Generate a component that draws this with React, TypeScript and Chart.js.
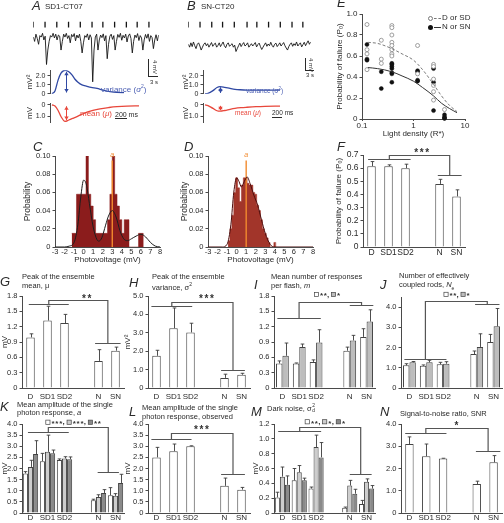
import React, { useEffect, useRef } from "react";
import { Chart, registerables } from "chart.js";

Chart.register(...registerables);

const FONT = "'Liberation Sans', Arial, Helvetica, sans-serif";
Chart.defaults.font.family = FONT;
Chart.defaults.color = "#2a2a2a";

const INK = "#2a2a2a";
const AXIS = "#4a4a4a";
const BLUE = "#3049a3";
const BLUE_TXT = "#4b5fb3";
const RED = "#e8473b";
const ORANGE = "#f28a2e";
const WHITE_BAR = "#ffffff";
const GREY_BAR = "#bdbdbd";
const LIGHT_BAR = "#cdcdcd";
const DARK_BAR = "#8a8a8a";
const HIST_C = "#8b1c1c";
const HIST_D = "#a2352a";

/* ================= DATA ================= */

// Panel A (SD1-CT07) raw recording, mV relative to baseline
const flashTimesA = [0, 8.9, 17.8, 26.7, 35.6, 44.5, 52.7, 61.6, 70.5, 78.7, 87.6];
const voltageA = [
  0.5, -1, 1.5, 0, -2, 1, 0.5, 1.8, -0.5, 0.8,
  -9, -4, -1, 1, 0.5, 1.8, 0.2, 1.5, -0.5, 1.2,
  0.8, -4, -1, 1.5, 0.5, 1.8, 0, 1, -1.5, 1.4,
  0.6, 1.7, -0.8, 1.2, 0.2, 1.5, -1, -5, -1.5, 1,
  0.4, 1.6, -0.5, 1.3, 0.2, -15, -4, 0.5, 1.5, -4,
  -0.5, 1.2, 0.3, 1.6, -0.8, 1, -7, -2, 0.8, 1.5,
  -0.3, 1, -4, -1, 1.4, 0.4, 1.8, -0.6, 1.1, 0.2,
  1.5, -1.2, 0.9, 1.6, 0, -5, -1, 1.2, 0.3, 1.7,
  -0.7, 1, 0.2, -4, -0.5, 1.4, 0.1, 1.6, -1, 1,
  0.3, -3.5, -0.5, 1.3, -0.8, 1.2,
];
// Panel B (SN-CT20) raw recording
const flashTimesB = [0, 9.1, 18.2, 26.6, 35.7, 45.6, 53.2, 62.3, 71.4, 80.5, 88.9];
const voltageB = [
  -2, -3, -1.5, -2.8, -1.2, -2.5, -3.5, -2, -1.5, -2.6,
  -4, -3, -2, -1.5, -2.5, -1.8, -3, -2.2, -1.4, -2.7,
  -2, -1.6, -3, -2.4, -1.5, -2.8, -2, -1.2, -2.5, -3.2,
  -2, -1.5, -2.7, -2.2, -1.8, -3, -2.3, -4.5, -3.5, -2.5,
  -1.6, -2.8, -2, -1.4, -2.6, -2.2, -1.5, -3, -2.4, -1.8,
  -2.6, -2, -1.4, -2.9, -2.1, -1.6, -2.8, -3.8, -3, -2.2,
  -1.5, -2.7, -1.9, -2.5, -1.3, -2.4, -3, -2, -1.6, -2.8,
  -2.2, -1.5, -2.6, -2, -1.4, -2.5, -3.3, -4, -2.8, -2,
  -1.5, -2.7, -1.8, -2.4, -1.2, -2.6, -2, -1.5, -2.9, -2.1,
  -1.3, -2.5, -1.6, -0.8, -2, -1.2,
];
const FLASH_LEVEL = 4.8;

// Ensemble variance / mean (time in ms)
const varTimeA = [0, 50, 100, 150, 217, 280, 333, 380, 433, 500, 583, 650, 750, 850, 967, 1080, 1200];
const varA = [0, 0.3, 1.5, 2.3, 2.62, 2.45, 2.1, 1.65, 1.3, 1.0, 0.84, 0.72, 0.6, 0.42, 0.25, 0.15, 0.12];
const meanTimeA = [0, 50, 100, 150, 217, 280, 350, 417, 500, 583, 700, 800, 950, 1083, 1250, 1450];
const meanA = [0, 0.1, 0.46, 1.0, 1.42, 1.3, 1.15, 1.0, 0.8, 0.62, 0.45, 0.33, 0.22, 0.15, 0.1, 0.08];
const varArrowA = [233, 0.15, 2.45];
const meanArrowA = [233, 0.12, 1.3];

const varTimeB = [0, 50, 133, 200, 250, 330, 417, 500, 583, 700, 850, 1000, 1250];
const varB = [0, 0.05, 0.35, 0.7, 0.8, 0.72, 0.6, 0.5, 0.45, 0.42, 0.42, 0.4, 0.4];
const meanTimeB = [0, 50, 133, 200, 250, 330, 417, 500, 600, 700, 850, 1000, 1250];
const meanB = [0, 0.05, 0.3, 0.5, 0.54, 0.48, 0.38, 0.3, 0.24, 0.2, 0.15, 0.12, 0.1];
const varArrowB = [250, 0.1, 0.72];
const meanArrowB = [250, 0.08, 0.45];

const varTicks = [0, 1, 2];
const meanTicks = [0, 1];

// Panel C histogram (bin centres, bin width 0.25 mV)
const cBinWidth = 0.25;
const cBins = [
  -1.125, -0.875, -0.625, -0.375, -0.125, 0.125, 0.375, 0.625, 0.875, 1.125,
  1.375, 1.625, 1.875, 2.125, 2.375, 2.625, 2.875, 3.125, 3.375, 3.625,
  3.875, 4.125, 4.375, 4.625, 4.875, 5.125, 5.375, 5.625, 5.875, 6.125,
];
const cProb = [
  0.015, 0.015, 0.058, 0.058, 0.058, 0.058, 0.1, 0.058, 0.045, 0.03,
  0.015, 0.015, 0.015, 0.015, 0.015, 0.03, 0.058, 0.1, 0.058, 0.045,
  0.03, 0.015, 0.03, 0.03, 0, 0, 0, 0, 0.015, 0.015,
];
const cFitX = [-3, -2, -1.5, -1, -0.6, -0.3, 0, 0.3, 0.6, 1.0, 1.4, 1.6, 1.9, 2.3, 2.6, 3, 3.4, 3.8, 4.2, 4.6, 5, 5.5, 6, 6.5, 7, 7.5, 8];
const cFitY = [0, 0, 0.001, 0.005, 0.025, 0.055, 0.0735, 0.068, 0.048, 0.022, 0.008, 0.0065, 0.01, 0.024, 0.034, 0.04, 0.033, 0.018, 0.009, 0.007, 0.009, 0.012, 0.014, 0.011, 0.005, 0.001, 0];
const cQuantal = 3.0;

// Panel D histogram (bin centres, bin width 0.2 mV)
const dBinWidth = 0.2;
const dBins = [
  -0.8, -0.6, -0.4, -0.2, 0, 0.2, 0.4, 0.6, 0.8, 1.0, 1.2, 1.4, 1.6,
  1.8, 2.0, 2.2, 2.4, 2.6, 2.8, 3.0, 3.2, 3.4, 3.6, 3.8, 4.0,
];
const dProb = [
  0.007, 0.02, 0.035, 0.06, 0.076, 0.065, 0.05, 0.068, 0.076, 0.076, 0.07, 0.068, 0.068,
  0.06, 0.058, 0.046, 0.04, 0.03, 0.02, 0.015, 0.01, 0.005, 0, 0, 0.005,
];
const dFitX = [-3, -1.5, -1, -0.6, -0.3, 0, 0.25, 0.5, 0.8, 1.1, 1.4, 1.8, 2.2, 2.6, 3, 3.5, 4, 8];
const dFitY = [0, 0, 0.003, 0.025, 0.06, 0.076, 0.072, 0.066, 0.072, 0.077, 0.07, 0.057, 0.046, 0.03, 0.015, 0.003, 0, 0];
const dQuantal = 1.0;

const histXTicks = [-3, -2, -1, 0, 1, 2, 3, 4, 5, 6, 7, 8];
const histYTicks = [0, 0.02, 0.04, 0.06, 0.08, 0.1];

// Panel E
const eOpenX = [0.125, 0.125, 0.125, 0.125, 0.237, 0.237, 0.237, 0.38, 0.38, 0.38, 0.38, 0.38, 0.38, 0.38, 0.38, 1.2, 1.2, 2.45, 2.45, 2.45, 2.45, 2.45, 2.45, 4.0];
const eOpenY = [0.9, 0.66, 0.62, 0.47, 0.75, 0.57, 0.53, 0.89, 0.87, 0.8, 0.73, 0.7, 0.66, 0.62, 0.6, 0.7, 0.43, 0.52, 0.5, 0.38, 0.32, 0.26, 0.18, 0.09];
const eFillX = [0.125, 0.125, 0.125, 0.237, 0.237, 0.38, 0.38, 0.38, 0.38, 0.38, 0.38, 0.38, 1.2, 1.2, 1.2, 1.2, 2.45, 2.45, 2.45, 4.0, 4.0, 4.0, 4.0];
const eFillY = [0.71, 0.57, 0.56, 0.45, 0.29, 0.53, 0.52, 0.5, 0.48, 0.44, 0.43, 0.35, 0.46, 0.45, 0.37, 0.36, 0.48, 0.35, 0.08, 0.04, 0.02, 0.01, 0.005];
const eFitX = [0.13, 0.2, 0.38, 0.6, 1.0, 1.5, 2.45, 3.5, 5, 7];
const eFitD = [0.73, 0.72, 0.67, 0.62, 0.56, 0.47, 0.33, 0.22, 0.13, 0.07];
const eFitN = [0.49, 0.48, 0.45, 0.41, 0.36, 0.3, 0.22, 0.15, 0.1, 0.06];
const eXTicks = [0.1, 1, 10];
const eYTicks = [0, 0.2, 0.4, 0.6, 0.8, 1.0];

// Bar panels
const cats = ["D", "SD1", "SD2", "", "N", "SN"];

const fMean = [0.615, 0.615, 0.6, null, 0.48, 0.385];
const fErr = [0.035, 0.01, 0.03, null, 0.035, 0.05];
const fTicks = [0, 0.1, 0.2, 0.3, 0.4, 0.5, 0.6, 0.7];

const gMean = [0.99, 1.32, 1.27, null, 0.53, 0.73];
const gErr = [0.07, 0.28, 0.17, null, 0.22, 0.07];
const gTicks = [0, 0.3, 0.6, 0.9, 1.2, 1.5, 1.8];

const hMean = [1.75, 3.25, 3.02, null, 0.55, 0.72];
const hErr = [0.3, 1.1, 0.5, null, 0.2, 0.08];
const hTicks = [0, 1, 2, 3, 4, 5];

const iMean1 = [0.48, 0.48, 0.51, null, 0.73, 1.0];
const iErr1 = [0.05, 0.01, 0.04, null, 0.07, 0.16];
const iMean2 = [0.63, 0.8, 0.89, null, 0.93, 1.3];
const iErr2 = [0.25, 0.06, 0.25, null, 0.1, 0.23];
const iTicks = [0, 0.3, 0.6, 0.9, 1.2, 1.5, 1.8];

const jMean1 = [1.12, 1.1, 1.17, null, 1.68, 2.27];
const jErr1 = [0.08, 0.04, 0.1, null, 0.15, 0.38];
const jMean2 = [1.27, 1.27, 1.2, null, 2.03, 3.05];
const jErr2 = [0.04, 0.1, 0.1, null, 0.65, 0.88];
const jTicks = [0, 1, 2, 3, 4];

const kMean1 = [1.78, 2.33, 2.38, null, 0.57, 0.8];
const kErr1 = [0.08, 0.35, 0.05, null, 0.05, 0.34];
const kMean2 = [2.07, 2.75, 2.45, null, 0.72, 0.77];
const kErr2 = [0.3, 0.75, 0.08, null, 0.1, 0.1];
const kMean3 = [2.65, 2.68, 2.42, null, 0.9, 1.35];
const kErr3 = [0.6, 0.15, 0.1, null, 0.15, 0.39];
const kTicks = [0, 0.5, 1, 1.5, 2, 2.5, 3, 3.5, 4];

const lMean = [2.5, 2.78, 3.0, null, 1.22, 1.05];
const lErr = [0.45, 0.32, 0.02, null, 0.35, 0.1];

const mMean1 = [0.21, 0.44, 0.33, null, 0.07, 0.12];
const mErr1 = [0.07, 0.16, 0.02, null, 0.01, 0.05];
const mMean2 = [0.49, 0.55, 0.89, null, 0.37, 0.42];
const mErr2 = [0.13, 0.09, 0.16, null, 0.07, 0.04];
const mMean3 = [0.38, 0.44, 0.75, null, 0.26, 0.33];
const mErr3 = [0.12, 0.03, 0.2, null, 0.06, 0.04];
const mTicks = [0, 0.2, 0.4, 0.6, 0.8, 1.0, 1.2];

const nMean = [3.1, 2.55, 2.45, null, 1.3, 2.28];
const nErr = [0.32, 0.55, 0.01, null, 0.13, 0.3];
const nTicks = [0, 1, 2, 3, 4];

// significance brackets: left [xFrom, xTo, y], top y, right [xFrom, xTo, y]
const fBracket = { left: [-0.2, 2.3, 0.67], top: 0.7, right: [3.9, 5.3, 0.55] };
const gBracket = { left: [-0.1, 2.25, 1.64], top: 1.72, right: [3.8, 5.3, 0.89] };
const hBracket = { left: [-0.3, 2.1, 4.46], top: 4.69, right: [3.8, 5.2, 0.98] };
const iBracket = { left: [-0.3, 2.28, 1.36], top: 1.69, right: [4.0, 5.4, 1.62] };
const jBracket = { left: [-0.3, 2.2, 1.43], top: 4.31, right: [3.9, 5.35, 4.15] };
const kBracket = { left: [-0.15, 2.25, 3.65], top: 3.88, right: [3.95, 5.2, 1.86] };
const lBracket = { left: [-0.3, 2.06, 3.31], top: 3.58, right: [3.8, 5.2, 1.75] };
const mBracket = { left: [-0.25, 2.3, 1.11], top: 1.16, right: [4.0, 5.3, 0.52] };
const nBracket = { left: [-0.25, 2.2, 3.61], top: 3.82, right: [3.95, 5.4, 2.8] };

const fNote = { x: 2.95, y: 0.725, parts: ["***"], center: true, size: 10, adv: 5.5 };
const gNote = { x: 3.3, y: 1.78, parts: ["**"], center: true, size: 10, adv: 5.5 };
const hNote = { x: 2.94, y: 4.95, parts: ["***"], center: true, size: 10, adv: 5.5 };
const iNote = { x: 1.9, y: 1.83, parts: [{ sq: WHITE_BAR }, "**, ", { sq: GREY_BAR }, "*"], size: 8, adv: 3.6 };
const jNote = { x: 2.05, y: 4.63, parts: [{ sq: WHITE_BAR }, "**, ", { sq: GREY_BAR }, "*"], size: 8, adv: 3.6 };
const kNote = { x: 0.9, y: 4.08, parts: [{ sq: WHITE_BAR }, "***, ", { sq: LIGHT_BAR }, "***, ", { sq: DARK_BAR }, "**"], size: 8, adv: 3.8 };
const lNote = { x: 2.65, y: 3.8, parts: ["***"], center: true, size: 10, adv: 5.5 };
const mNote = { x: 1.35, y: 1.23, parts: [{ sq: WHITE_BAR }, "**, ", { sq: LIGHT_BAR }, "*, ", { sq: DARK_BAR }, "*"], size: 8, adv: 3.8 };
const nNote = { x: 2.8, y: 3.98, parts: ["*"], center: true, size: 10, adv: 5.5 };

/* ================= GEOMETRY ================= */
const G_TRACE_A = { x0: 32, y0: 17, x1: 160, y1: 86, L: 4, T: 4, R: 4, B: 4 };
const G_TRACE_B = { x0: 187, y0: 17, x1: 312, y1: 86, L: 4, T: 4, R: 4, B: 4 };
const G_VAR_A = { x0: 50, y0: 70, x1: 150, y1: 95, L: 25, T: 6, R: 4, B: 5 };
const G_MEAN_A = { x0: 50, y0: 102, x1: 150, y1: 124, L: 25, T: 5, R: 4, B: 5 };
const G_VAR_B = { x0: 203, y0: 70, x1: 303, y1: 95, L: 22, T: 6, R: 4, B: 5 };
const G_MEAN_B = { x0: 203, y0: 102, x1: 303, y1: 124, L: 22, T: 5, R: 4, B: 5 };
const G_C = { x0: 55, y0: 156, x1: 160, y1: 247, L: 32, T: 8, R: 5, B: 18 };
const G_D = { x0: 208, y0: 156, x1: 313, y1: 247, L: 28, T: 8, R: 5, B: 18 };
const G_E = { x0: 362, y0: 14, x1: 465, y1: 119, L: 27, T: 10, R: 10, B: 20 };
const G_F = { x0: 363, y0: 155, x1: 465, y1: 247, L: 29, T: 12, R: 4, B: 13 };
const G_G = { x0: 22, y0: 296, x1: 124, y1: 388, L: 22, T: 16, R: 2, B: 17 };
const G_H = { x0: 148, y0: 296, x1: 250, y1: 388, L: 25, T: 16, R: 2, B: 17 };
const G_I = { x0: 274, y0: 296, x1: 375, y1: 388, L: 22, T: 16, R: 2, B: 17 };
const G_J = { x0: 401, y0: 297, x1: 502, y1: 388, L: 22, T: 16, R: 2, B: 17 };
const G_K = { x0: 22, y0: 424, x1: 124, y1: 513, L: 22, T: 16, R: 2, B: 11 };
const G_L = { x0: 148, y0: 424, x1: 250, y1: 513, L: 25, T: 16, R: 2, B: 11 };
const G_M = { x0: 274, y0: 424, x1: 375, y1: 513, L: 23, T: 16, R: 2, B: 11 };
const G_N = { x0: 401, y0: 424, x1: 502, y1: 513, L: 22, T: 16, R: 2, B: 11 };

/* ================= HELPERS ================= */
const f1 = (v: number) => (v === 0 ? "0" : v.toFixed(1));
const f2 = (v: number) => (v === 0 ? "0" : v.toFixed(2));

function baseOptions(g: any, scales: any, hidden: any = {}) {
  return {
    responsive: false,
    maintainAspectRatio: false,
    animation: false,
    devicePixelRatio: 1,
    events: [],
    layout: { padding: { left: hidden.y ? g.L : 0, top: g.T, right: g.R, bottom: hidden.x ? g.B : 0 } },
    plugins: { legend: { display: false }, tooltip: { enabled: false } },
    scales,
  };
}

function yAxis(g: any, o: any) {
  return {
    type: "linear",
    min: o.min,
    max: o.max,
    reverse: !!o.reverse,
    afterFit: (s: any) => { s.width = g.L; },
    afterBuildTicks: (s: any) => { s.ticks = o.ticks.map((v: number) => ({ value: v })); },
    ticks: { font: { size: o.size }, color: INK, padding: 2, autoSkip: false, callback: (v: any) => o.fmt(Number(v)) },
    grid: { display: true, drawOnChartArea: false, drawTicks: true, tickLength: 2.5, color: AXIS, lineWidth: 1 },
    border: { display: true, color: AXIS, width: 1 },
    title: o.title
      ? { display: true, text: o.title, font: { size: o.titleSize || 8 }, color: INK, padding: 0 }
      : { display: false },
  };
}

function catAxis(g: any, size: number, pad: number) {
  return {
    type: "category",
    offset: true,
    afterFit: (s: any) => { s.height = g.B; },
    ticks: { font: { size }, color: INK, padding: pad, autoSkip: false, maxRotation: 0, minRotation: 0 },
    grid: { display: false, drawTicks: false, offset: true },
    border: { display: true, color: AXIS, width: 1 },
  };
}

function ChartCanvas({ g, build }: any) {
  const ref = useRef<HTMLCanvasElement | null>(null);
  const left = Math.round(g.x0 - g.L);
  const top = Math.round(g.y0 - g.T);
  const w = Math.round(g.x1 - g.x0 + g.L + g.R);
  const h = Math.round(g.y1 - g.y0 + g.T + g.B);
  useEffect(() => {
    const chart = new Chart(ref.current as HTMLCanvasElement, build(g));
    return () => chart.destroy();
  }, []);
  return (
    <canvas
      ref={ref}
      width={w}
      height={h}
      style={{ position: "absolute", left, top, width: w, height: h, display: "block" }}
    />
  );
}

const arrowPlugin = (a: number[], color: string) => ({
  id: "arrow",
  afterDatasetsDraw(chart: any) {
    const { ctx, scales } = chart;
    const px = Math.round(scales.x.getPixelForValue(a[0])) + 0.5;
    const p1 = scales.y.getPixelForValue(a[1]);
    const p2 = scales.y.getPixelForValue(a[2]);
    ctx.save();
    ctx.strokeStyle = color;
    ctx.fillStyle = color;
    ctx.lineWidth = 1;
    ctx.beginPath();
    ctx.moveTo(px, p1);
    ctx.lineTo(px, p2);
    ctx.stroke();
    const d = p2 > p1 ? 1 : -1;
    const head = (yy: number, dir: number) => {
      ctx.beginPath();
      ctx.moveTo(px, yy);
      ctx.lineTo(px - 2.2, yy - dir * 3.5);
      ctx.lineTo(px + 2.2, yy - dir * 3.5);
      ctx.closePath();
      ctx.fill();
    };
    head(p2, d);
    head(p1, -d);
    ctx.restore();
  },
});

const errorBarPlugin = (errs: any[][]) => ({
  id: "errbars",
  afterDatasetsDraw(chart: any) {
    const ctx = chart.ctx;
    const ys = chart.scales.y;
    ctx.save();
    ctx.strokeStyle = "#3a3a3a";
    ctx.lineWidth = 0.9;
    errs.forEach((arr, di) => {
      const meta = chart.getDatasetMeta(di);
      const data = chart.data.datasets[di].data;
      meta.data.forEach((el: any, j: number) => {
        const v = data[j];
        const e = arr[j];
        if (v == null || e == null) return;
        const x = Math.round(el.x) + 0.5;
        const yTop = ys.getPixelForValue(v + e);
        ctx.beginPath();
        ctx.moveTo(x, ys.getPixelForValue(v));
        ctx.lineTo(x, yTop);
        ctx.moveTo(x - 1.8, yTop);
        ctx.lineTo(x + 1.8, yTop);
        ctx.stroke();
      });
    });
    ctx.restore();
  },
});

const bracketPlugin = (b: any, note: any) => ({
  id: "bracket",
  afterDraw(chart: any) {
    const { ctx, scales } = chart;
    const px = (v: number) => scales.x.getPixelForValue(v);
    const py = (v: number) => Math.round(scales.y.getPixelForValue(v)) + 0.5;
    const lm = (b.left[0] + b.left[1]) / 2;
    const rm = (b.right[0] + b.right[1]) / 2;
    ctx.save();
    ctx.strokeStyle = "#555";
    ctx.lineWidth = 1.2;
    ctx.beginPath();
    ctx.moveTo(px(b.left[0]), py(b.left[2]));
    ctx.lineTo(px(b.left[1]), py(b.left[2]));
    ctx.moveTo(px(lm), py(b.left[2]));
    ctx.lineTo(px(lm), py(b.top));
    ctx.lineTo(px(rm), py(b.top));
    ctx.lineTo(px(rm), py(b.right[2]));
    ctx.moveTo(px(b.right[0]), py(b.right[2]));
    ctx.lineTo(px(b.right[1]), py(b.right[2]));
    ctx.stroke();

    // significance text
    ctx.font = `bold ${note.size}px ${FONT}`;
    ctx.textBaseline = "middle";
    ctx.textAlign = "left";
    const sq = 4.2;
    const widthOf = () => {
      let w = 0;
      note.parts.forEach((p: any) => {
        if (typeof p === "string") {
          for (const ch of p) w += ch === "*" ? note.adv : ctx.measureText(ch).width;
        } else w += sq + 1.2;
      });
      return w;
    };
    let x = px(note.x);
    if (note.center) x -= widthOf() / 2;
    const y = scales.y.getPixelForValue(note.y);
    ctx.fillStyle = "#333";
    note.parts.forEach((p: any) => {
      if (typeof p === "string") {
        for (const ch of p) {
          if (ch === "*") {
            ctx.fillText("*", x + (note.adv - ctx.measureText("*").width) / 2, y + note.size * 0.2);
            x += note.adv;
          } else {
            ctx.fillText(ch, x, y);
            x += ctx.measureText(ch).width;
          }
        }
      } else {
        ctx.fillStyle = p.sq;
        ctx.fillRect(x, y - sq / 2, sq, sq);
        ctx.strokeStyle = "#444";
        ctx.lineWidth = 0.7;
        ctx.strokeRect(x, y - sq / 2, sq, sq);
        ctx.fillStyle = "#333";
        x += sq + 1.2;
      }
    });
    ctx.restore();
  },
});

const quantalLabel = (xv: number) => ({
  id: "qlabel",
  afterDraw(chart: any) {
    const { ctx, scales } = chart;
    ctx.save();
    ctx.fillStyle = ORANGE;
    ctx.font = `italic 7px ${FONT}`;
    ctx.textAlign = "center";
    ctx.textBaseline = "middle";
    ctx.fillText("a", scales.x.getPixelForValue(xv), scales.y.getPixelForValue(0.1) - 0.5);
    ctx.restore();
  },
});

/* ================= BUILDERS ================= */
function buildTrace(volt: number[], flashes: number[]) {
  return (g: any) => ({
    type: "line",
    data: {
      datasets: [
        {
          data: volt.map((y, x) => ({ x, y })),
          borderColor: "#151515",
          borderWidth: 0.9,
          pointRadius: 0,
          tension: 0,
        },
        {
          type: "scatter",
          data: flashes.map((x) => ({ x, y: FLASH_LEVEL })),
          pointStyle: "line",
          pointRotation: 90,
          pointRadius: 2.8,
          pointBorderColor: "#151515",
          pointBackgroundColor: "#151515",
          pointBorderWidth: 1.3,
        },
      ],
    },
    options: baseOptions(
      g,
      {
        x: { type: "linear", display: false, min: 0, max: volt.length - 1 },
        y: { type: "linear", display: false, min: -16, max: 7 },
      },
      { x: true, y: true }
    ),
  });
}

function buildEns(times: number[], vals: number[], color: string, arrow: number[], yo: any) {
  return (g: any) => ({
    type: "line",
    data: {
      datasets: [
        {
          data: times.map((x, i) => ({ x, y: vals[i] })),
          borderColor: color,
          borderWidth: 1.3,
          pointRadius: 0,
          cubicInterpolationMode: "monotone",
        },
      ],
    },
    options: baseOptions(g, { x: { type: "linear", display: false, min: -33, max: 1633 }, y: yAxis(g, yo) }, { x: true }),
    plugins: [arrowPlugin(arrow, color)],
  });
}

function buildHist(bins: number[], width: number, probs: number[], fx: number[], fy: number[], q: number, color: string, fitColor: string) {
  // histogram drawn as a filled step line: each bin's left edge holds its probability
  const steps = bins.map((c, i) => ({ x: c - width / 2, y: probs[i] }));
  steps.push({ x: bins[bins.length - 1] + width / 2, y: 0 });
  return (g: any) => ({
    type: "line",
    data: {
      datasets: [
        {
          data: fx.map((x, i) => ({ x, y: fy[i] })),
          borderColor: fitColor,
          borderWidth: 1,
          pointRadius: 0,
          cubicInterpolationMode: "monotone",
          order: 0,
        },
        {
          data: [{ x: q, y: 0 }, { x: q, y: 0.095 }],
          borderColor: ORANGE,
          borderWidth: 1.4,
          pointRadius: 0,
          order: 1,
        },
        {
          data: steps,
          stepped: "before",
          fill: "origin",
          backgroundColor: color,
          borderColor: color,
          borderWidth: 0.5,
          pointRadius: 0,
          order: 2,
        },
      ],
    },
    options: baseOptions(g, {
      x: {
        type: "linear",
        offset: false,
        min: -3,
        max: 8,
        afterFit: (s: any) => { s.height = g.B; },
        afterBuildTicks: (s: any) => { s.ticks = histXTicks.map((v) => ({ value: v })); },
        ticks: { font: { size: 7.5 }, color: INK, padding: 0, autoSkip: false, maxRotation: 0, callback: (v: any) => String(v) },
        grid: { display: false, drawTicks: false },
        border: { display: true, color: AXIS, width: 1 },
        title: { display: true, text: "Photovoltage (mV)", font: { size: 8 }, color: INK, padding: 0 },
      },
      y: yAxis(g, { min: 0, max: 0.1, ticks: histYTicks, fmt: f2, size: 7.5, title: "Probability", titleSize: 8.5 }),
    }),
    plugins: [quantalLabel(q)],
  });
}

function buildE(g: any) {
  return {
    type: "scatter",
    data: {
      datasets: [
        {
          data: eFitX.map((x, i) => ({ x, y: eFitD[i] })),
          showLine: true,
          borderColor: "#7a7a7a",
          borderDash: [3, 2],
          borderWidth: 1,
          pointRadius: 0,
          cubicInterpolationMode: "monotone",
        },
        {
          data: eFitX.map((x, i) => ({ x, y: eFitN[i] })),
          showLine: true,
          borderColor: "#333",
          borderWidth: 1,
          pointRadius: 0,
          cubicInterpolationMode: "monotone",
        },
        {
          data: eOpenX.map((x, i) => ({ x, y: eOpenY[i] })),
          pointRadius: 2,
          pointBackgroundColor: "#fff",
          pointBorderColor: "#888",
          pointBorderWidth: 0.8,
          clip: false,
        },
        {
          data: eFillX.map((x, i) => ({ x, y: eFillY[i] })),
          pointRadius: 2,
          pointBackgroundColor: "#111",
          pointBorderColor: "#111",
          pointBorderWidth: 0.5,
          clip: false,
        },
      ],
    },
    options: baseOptions(g, {
      x: {
        type: "logarithmic",
        min: 0.1,
        max: 10,
        afterFit: (s: any) => { s.height = g.B; },
        afterBuildTicks: (s: any) => { s.ticks = eXTicks.map((v) => ({ value: v })); },
        ticks: { font: { size: 8 }, color: INK, padding: 0, autoSkip: false, maxRotation: 0, callback: (v: any) => String(v) },
        grid: { display: true, drawOnChartArea: false, drawTicks: true, tickLength: 2, color: AXIS },
        border: { display: true, color: AXIS, width: 1 },
        title: { display: true, text: "Light density (R*)", font: { size: 8 }, color: INK, padding: 0 },
      },
      y: yAxis(g, { min: 0, max: 1, ticks: eYTicks, fmt: f1, size: 8, title: "Probability of failure (P\u2080)", titleSize: 8 }),
    }),
  };
}

function buildBars(series: any[], o: any) {
  return (g: any) => ({
    type: "bar",
    data: {
      labels: cats,
      datasets: series.map((s) => ({
        data: s.values,
        backgroundColor: s.color,
        borderColor: "#444",
        borderWidth: 1,
        categoryPercentage: o.catPct,
        barPercentage: 1,
      })),
    },
    options: baseOptions(g, {
      x: catAxis(g, o.catSize, o.catPad),
      y: yAxis(g, { min: 0, max: o.max, ticks: o.ticks, fmt: f1, size: o.tickSize, title: o.title, titleSize: 8 }),
    }),
    plugins: [errorBarPlugin(series.map((s) => s.errors)), bracketPlugin(o.bracket, o.note)],
  });
}

const smallBar = { catSize: 8, catPad: 4, tickSize: 7.5 };
const smallBarLow = { catSize: 8, catPad: 0, tickSize: 7.5 };

/* ================= TEXT ================= */
function Txt({ x, y, s, it, c, rot, children, w }: any) {
  return (
    <div
      style={{
        position: "absolute",
        left: x,
        top: y,
        fontSize: s,
        lineHeight: 1,
        fontFamily: FONT,
        fontStyle: it ? "italic" : "normal",
        color: c || INK,
        whiteSpace: "nowrap",
        fontWeight: w || "normal",
        transform: rot ? `rotate(${rot}deg)` : undefined,
        transformOrigin: "left top",
      }}
    >
      {children}
    </div>
  );
}

function Bar({ x, y, w, h, c }: any) {
  return <div style={{ position: "absolute", left: x, top: y, width: w, height: h, background: c || INK }} />;
}

const Stack = ({ sup, sub }: any) => (
  <span style={{ display: "inline-block", verticalAlign: "middle", fontSize: "0.65em", lineHeight: 0.95, marginLeft: 0.5 }}>
    <span style={{ display: "block" }}>{sup}</span>
    <span style={{ display: "block" }}>{sub}</span>
  </span>
);

export default function App() {
  return (
    <div
      style={{
        position: "fixed",
        left: 0,
        top: 0,
        width: 504,
        height: 523,
        overflow: "hidden",
        background: "#fff",
        fontFamily: FONT,
      }}
    >
      {/* ---- A & B traces ---- */}
      <ChartCanvas g={G_TRACE_A} build={buildTrace(voltageA, flashTimesA)} />
      <ChartCanvas g={G_TRACE_B} build={buildTrace(voltageB, flashTimesB)} />
      <ChartCanvas
        g={G_VAR_A}
        build={buildEns(varTimeA, varA, BLUE, varArrowA, { min: 0, max: 2.63, ticks: varTicks, fmt: f1, size: 7, title: "mV\u00b2" })}
      />
      <ChartCanvas
        g={G_MEAN_A}
        build={buildEns(meanTimeA, meanA, RED, meanArrowA, { min: -0.15, max: 1.54, reverse: true, ticks: meanTicks, fmt: f1, size: 7, title: "mV" })}
      />
      <ChartCanvas
        g={G_VAR_B}
        build={buildEns(varTimeB, varB, BLUE, varArrowB, { min: 0, max: 2.63, ticks: varTicks, fmt: f1, size: 7, title: "mV\u00b2" })}
      />
      <ChartCanvas
        g={G_MEAN_B}
        build={buildEns(meanTimeB, meanB, RED, meanArrowB, { min: -0.15, max: 1.54, reverse: true, ticks: meanTicks, fmt: f1, size: 7, title: "mV" })}
      />

      {/* ---- C, D histograms ---- */}
      <ChartCanvas g={G_C} build={buildHist(cBins, cBinWidth, cProb, cFitX, cFitY, cQuantal, HIST_C, "#1e1e1e")} />
      <ChartCanvas g={G_D} build={buildHist(dBins, dBinWidth, dProb, dFitX, dFitY, dQuantal, HIST_D, "#4a0c0c")} />

      {/* ---- E ---- */}
      <ChartCanvas g={G_E} build={buildE} />

      {/* ---- F ---- */}
      <ChartCanvas
        g={G_F}
        build={buildBars([{ values: fMean, errors: fErr, color: WHITE_BAR }], {
          catPct: 0.5, catSize: 8.5, catPad: 1, tickSize: 8.5, max: 0.7, ticks: fTicks,
          title: "Probability of failure (P\u2080)", bracket: fBracket, note: fNote,
        })}
      />

      {/* ---- G..N ---- */}
      <ChartCanvas
        g={G_G}
        build={buildBars([{ values: gMean, errors: gErr, color: WHITE_BAR }], {
          ...smallBar, catPct: 0.5, max: 1.8, ticks: gTicks, title: "mV", bracket: gBracket, note: gNote,
        })}
      />
      <ChartCanvas
        g={G_H}
        build={buildBars([{ values: hMean, errors: hErr, color: WHITE_BAR }], {
          ...smallBar, catPct: 0.5, max: 5, ticks: hTicks, title: "mV\u00b2", bracket: hBracket, note: hNote,
        })}
      />
      <ChartCanvas
        g={G_I}
        build={buildBars(
          [
            { values: iMean1, errors: iErr1, color: WHITE_BAR },
            { values: iMean2, errors: iErr2, color: GREY_BAR },
          ],
          { ...smallBar, catPct: 0.76, max: 1.8, ticks: iTicks, bracket: iBracket, note: iNote }
        )}
      />
      <ChartCanvas
        g={G_J}
        build={buildBars(
          [
            { values: jMean1, errors: jErr1, color: WHITE_BAR },
            { values: jMean2, errors: jErr2, color: GREY_BAR },
          ],
          { ...smallBar, catPct: 0.76, max: 4.5, ticks: jTicks, bracket: jBracket, note: jNote }
        )}
      />
      <ChartCanvas
        g={G_K}
        build={buildBars(
          [
            { values: kMean1, errors: kErr1, color: WHITE_BAR },
            { values: kMean2, errors: kErr2, color: LIGHT_BAR },
            { values: kMean3, errors: kErr3, color: DARK_BAR },
          ],
          { ...smallBarLow, catPct: 0.9, max: 4, ticks: kTicks, title: "mV", bracket: kBracket, note: kNote }
        )}
      />
      <ChartCanvas
        g={G_L}
        build={buildBars([{ values: lMean, errors: lErr, color: WHITE_BAR }], {
          ...smallBarLow, catPct: 0.5, max: 4, ticks: kTicks, title: "mV", bracket: lBracket, note: lNote,
        })}
      />
      <ChartCanvas
        g={G_M}
        build={buildBars(
          [
            { values: mMean1, errors: mErr1, color: WHITE_BAR },
            { values: mMean2, errors: mErr2, color: LIGHT_BAR },
            { values: mMean3, errors: mErr3, color: DARK_BAR },
          ],
          { ...smallBarLow, catPct: 0.9, max: 1.2, ticks: mTicks, title: "mV", bracket: mBracket, note: mNote }
        )}
      />
      <ChartCanvas
        g={G_N}
        build={buildBars([{ values: nMean, errors: nErr, color: WHITE_BAR }], {
          ...smallBarLow, catPct: 0.5, max: 4, ticks: nTicks, bracket: nBracket, note: nNote,
        })}
      />

      {/* ---- panel letters ---- */}
      <Txt x={32} y={-1} s={13} it>A</Txt>
      <Txt x={187} y={-1} s={13} it>B</Txt>
      <Txt x={337} y={-4} s={13} it>E</Txt>
      <Txt x={33} y={139.5} s={13} it>C</Txt>
      <Txt x={184} y={139.5} s={13} it>D</Txt>
      <Txt x={337} y={139.5} s={13} it>F</Txt>
      <Txt x={0} y={274.5} s={13} it>G</Txt>
      <Txt x={129} y={275.5} s={13} it>H</Txt>
      <Txt x={254} y={277.5} s={13} it>I</Txt>
      <Txt x={380} y={277.5} s={13} it>J</Txt>
      <Txt x={0} y={399.5} s={13} it>K</Txt>
      <Txt x={129} y={404.5} s={13} it>L</Txt>
      <Txt x={251} y={404.5} s={13} it>M</Txt>
      <Txt x={380} y={404.5} s={13} it>N</Txt>

      {/* ---- A / B annotations ---- */}
      <Txt x={45} y={2.5} s={8}>SD1-CT07</Txt>
      <Txt x={201} y={2.5} s={8}>SN-CT20</Txt>

      <Txt x={101} y={84} s={8} c={BLUE_TXT}>variance (<i>σ</i><sup style={{ fontSize: 5 }}>2</sup>)</Txt>
      <Txt x={80} y={110} s={8} c={RED}>mean (<i>μ</i>)</Txt>
      <Txt x={115} y={110.5} s={7}>200 ms</Txt>
      <Bar x={115} y={117.5} w={12} h={1} />

      <Txt x={246} y={87} s={6.5} c={BLUE_TXT}>variance (<i>σ</i><sup style={{ fontSize: 4.5 }}>2</sup>)</Txt>
      <Txt x={235} y={110} s={6.5} c={RED}>mean (<i>μ</i>)</Txt>
      <Txt x={272} y={110} s={6.5}>200 ms</Txt>
      <Bar x={272} y={117} w={10} h={1} />

      {/* scale bars */}
      <Bar x={148} y={59} w={1} h={18} />
      <Bar x={148} y={76} w={10} h={1} />
      <Txt x={158} y={60} s={6} rot={90}>4 mV</Txt>
      <Txt x={150} y={79} s={6}>3 s</Txt>
      <Bar x={305} y={58} w={1} h={13} />
      <Bar x={305} y={70} w={9} h={1} />
      <Txt x={314} y={58} s={6} rot={90}>4 mV</Txt>
      <Txt x={306} y={72} s={6}>3 s</Txt>

      {/* ---- E legend ---- */}
      <div style={{ position: "absolute", left: 427.5, top: 15.5, width: 5, height: 5, boxSizing: "border-box", borderRadius: "50%", border: "0.8px solid #777", background: "#fff" }} />
      <div style={{ position: "absolute", left: 434, top: 17.5, width: 7, height: 0, borderTop: "1px dashed #777" }} />
      <Txt x={442} y={14} s={8}>D or SD</Txt>
      <div style={{ position: "absolute", left: 427.5, top: 24.5, width: 5, height: 5, borderRadius: "50%", background: "#111" }} />
      <div style={{ position: "absolute", left: 434, top: 26.5, width: 7, height: 1, background: "#333" }} />
      <Txt x={442} y={23} s={8}>N or SN</Txt>

      {/* ---- panel titles ---- */}
      <Txt x={22} y={272.5} s={7.5}>Peak of the ensemble</Txt>
      <Txt x={22} y={281.5} s={7.5}>mean, μ</Txt>
      <Txt x={152} y={272.5} s={7.5}>Peak of the ensemble</Txt>
      <Txt x={152} y={281.5} s={7.5}>variance, σ<sup style={{ fontSize: 5 }}>2</sup></Txt>
      <Txt x={271} y={272.5} s={7.5}>Mean number of responses</Txt>
      <Txt x={271} y={281.5} s={7.5}>per flash, <i>m</i></Txt>
      <Txt x={399} y={271.5} s={7.5}>Number of effectively</Txt>
      <Txt x={399} y={280.5} s={7.5}>coupled rods, <i>N</i><sub style={{ fontSize: 5 }}>e</sub></Txt>
      <Txt x={17} y={400.5} s={7.5}>Mean amplitude of the single</Txt>
      <Txt x={17} y={409} s={7.5}>photon response, <i>a</i></Txt>
      <Txt x={142} y={404} s={7.5}>Mean amplitude of the single</Txt>
      <Txt x={142} y={412.5} s={7.5}>photon response, observed</Txt>
      <Txt x={267} y={404} s={7.5}>Dark noise, σ<Stack sup="2" sub="d" /></Txt>
      <Txt x={400} y={410} s={7.5}>Signal-to-noise ratio, SNR</Txt>
    </div>
  );
}
